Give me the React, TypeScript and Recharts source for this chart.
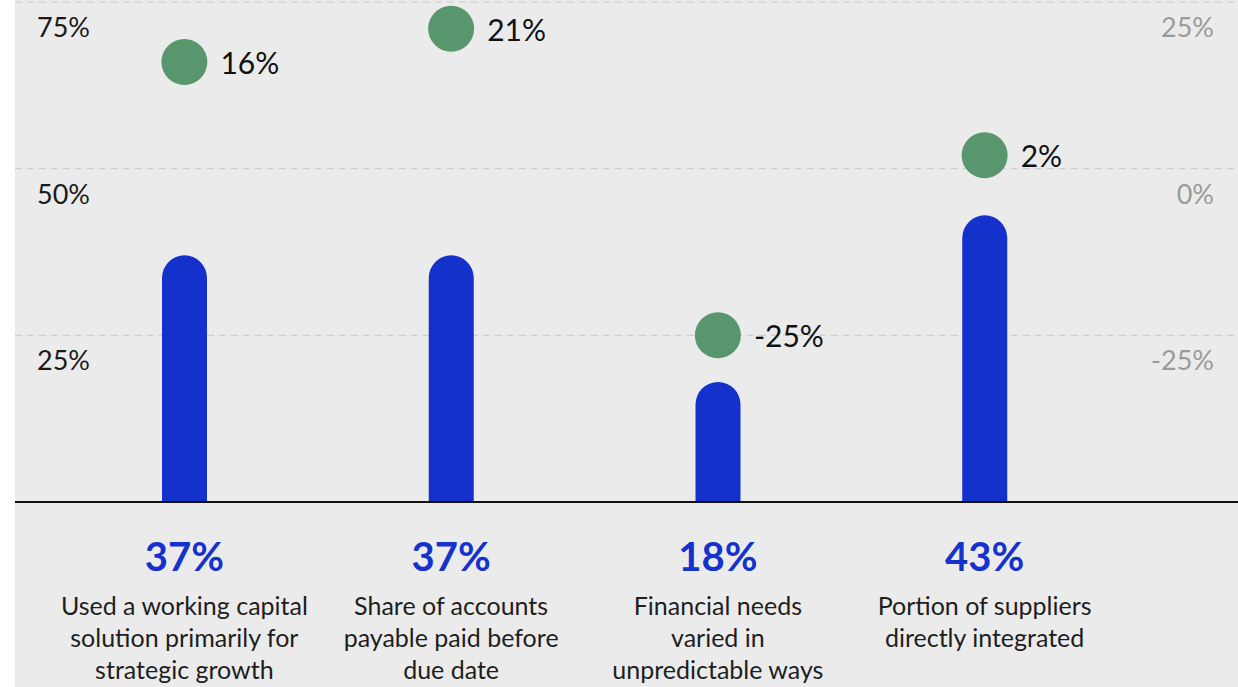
import { ComposedChart, Bar, Scatter, XAxis, YAxis, CartesianGrid } from 'recharts'

const categories = ['Working capital', 'Accounts payable', 'Financial needs', 'Suppliers']
const shareValues = [37, 37, 18, 43]
const changeValues = [16, 21, -25, 2]
const descriptions = [
  ['Used a working capital', 'solution primarily for', 'strategic growth'],
  ['Share of accounts', 'payable paid before', 'due date'],
  ['Financial needs', 'varied in', 'unpredictable ways'],
  ['Portion of suppliers', 'directly integrated'],
]
const leftTicks = [0, 25, 50, 75]
const rightTicks = [-50, -25, 0, 25]

const data = categories.map((name, i) => ({
  name,
  share: shareValues[i],
  change: changeValues[i],
}))

const FONT = 'Lato, "Noto Sans", sans-serif'

const LeftTick = (props: any) => {
  const { y, payload } = props
  if (payload.value === 0) return null
  return (
    <text x={22} y={y + 35} fill="#1a1a1a" fontSize={27} fontFamily={FONT}>
      {payload.value}%
    </text>
  )
}

const RightTick = (props: any) => {
  const { y, payload } = props
  if (payload.value === -50) return null
  return (
    <text x={1199} y={y + 35} fill="#9a9a9a" fontSize={27} fontFamily={FONT} textAnchor="end">
      {payload.value}%
    </text>
  )
}

const BottomTick = (props: any) => {
  const { x, payload, index } = props
  const i = typeof index === 'number' ? index : categories.indexOf(payload.value)
  return (
    <g>
      <text x={x} y={571} fill="#1533cc" fontSize={40} fontWeight={700} fontFamily={FONT} textAnchor="middle">
        {shareValues[i]}%
      </text>
      {descriptions[i].map((line, k) => (
        <text key={k} x={x} y={615 + k * 32} fill="#1e1e1e" fontSize={25} fontFamily={FONT} textAnchor="middle">
          {line}
        </text>
      ))}
    </g>
  )
}

const Dot = (props: any) => {
  const { cx, cy, payload } = props
  return (
    <g>
      <circle cx={cx} cy={cy} r={23} fill="#58966d" />
      <text x={cx + 36} y={cy + 12} fill="#111" fontSize={30} fontFamily={FONT}>
        {payload.change}%
      </text>
    </g>
  )
}

export default function App() {
  return (
    <div style={{ position: 'absolute', left: 0, top: 0, width: 1238, height: 687, background: '#fff' }}>
      <div style={{ position: 'absolute', left: 15, top: 0, width: 1223, height: 687, background: '#ebebeb' }}>
        <ComposedChart width={1223} height={687} data={data} margin={{ top: 2, right: -1, bottom: 0, left: -1 }}>
          <CartesianGrid yAxisId="left" vertical={false} stroke="#c9c9c9" strokeDasharray="7 5" />
          <XAxis
            dataKey="name"
            height={185}
            padding={{ left: 36, right: 120 }}
            axisLine={{ stroke: '#111', strokeWidth: 2 }}
            tickLine={false}
            tick={<BottomTick />}
            interval={0}
          />
          <YAxis yAxisId="left" width={1} interval={0} domain={[0, 75]} ticks={leftTicks} axisLine={false} tickLine={false} tick={<LeftTick />} />
          <YAxis yAxisId="right" orientation="right" width={1} interval={0} domain={[-50, 25]} ticks={rightTicks} axisLine={false} tickLine={false} tick={<RightTick />} />
          <Bar yAxisId="left" dataKey="share" fill="#1531cc" barSize={45} radius={[22.5, 22.5, 0, 0]} isAnimationActive={false} />
          <Scatter yAxisId="right" dataKey="change" shape={<Dot />} isAnimationActive={false} />
        </ComposedChart>
      </div>
    </div>
  )
}
